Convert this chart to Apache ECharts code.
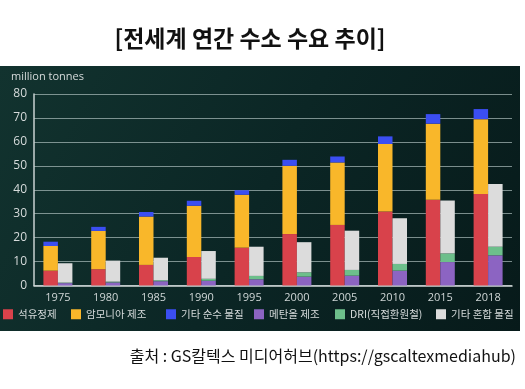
<!DOCTYPE html>
<html><head><meta charset="utf-8">
<script src="https://cdn.jsdelivr.net/npm/echarts@6/dist/echarts.min.js"></script>
<style>html,body{margin:0;padding:0;background:#fff}#c{width:525px;height:389px}</style>
</head><body><div id="c"></div>
<script>
const years = ['1975','1980','1985','1990','1995','2000','2005','2010','2015','2018'];
const yTicks = [0,10,20,30,40,50,60,70,80];
const refining = [6.2, 6.8, 8.6, 11.9, 15.8, 21.5, 25.3, 30.9, 35.8, 38.2];
const ammonia  = [10.3, 16.0, 20.2, 21.4, 22.1, 28.5, 26.1, 28.2, 31.8, 31.3];
const otherPure = [1.8, 1.7, 1.9, 2.1, 1.9, 2.5, 2.5, 3.2, 4.0, 4.2];
const methanol = [1.0, 1.3, 1.8, 2.0, 2.6, 3.7, 4.1, 6.2, 9.8, 12.6];
const dri      = [0.2, 0.3, 0.4, 0.8, 1.4, 1.8, 2.4, 2.8, 3.6, 3.6];
const otherMix = [8.1, 8.8, 9.4, 11.6, 12.2, 12.6, 16.4, 19.1, 22.1, 26.2];
const names = ['석유정제','암모니아 제조','기타 순수 물질','메탄올 제조','DRI(직접환원철)','기타 혼합 물질'];
const colors = ['#d8424b','#f9b72a','#3b4ef2','#8c64c2','#6dbf8b','#dcdcdc'];
const legendLefts = [3, 71, 166, 254, 335, 436];

const chart = echarts.init(document.getElementById('c'));
const seriesData = [refining, ammonia, otherPure, methanol, dri, otherMix];
const stacks = ['a','a','a','b','b','b'];
const font = "'Open Sans', 'Noto Sans CJK KR', sans-serif";
chart.setOption({
  animation: false,
  backgroundColor: '#ffffff',
  color: colors,
  grid: {left: 34, right: 13, top: 94, bottom: 103.5},
  legend: names.map((n, i) => ({
    data: [n], left: legendLefts[i], top: 309, itemWidth: 10, itemHeight: 10, itemGap: 0,
    icon: 'rect', textStyle: {color: '#d6dbdb', fontSize: 10.5, fontFamily: "'Noto Sans CJK KR', sans-serif"}, padding: 0
  })),
  graphic: [
    {type: 'rect', z: -10, silent: true, shape: {x: 0, y: 66, width: 520, height: 265},
      style: {fill: new echarts.graphic.LinearGradient(0, 0, 1, 1, [
        {offset: 0, color: '#12332f'}, {offset: 0.5, color: '#0b2625'}, {offset: 1, color: '#071a1a'}])}},
    {type: 'text', x: 11, y: 77, style: {text: 'million tonnes', fill: '#d6dbdb', font: "11px " + font, textVerticalAlign: 'middle'}},
    {type: 'text', x: 250, y: 38, style: {text: '[전세계 연간 수소 수요 추이]', fill: '#111', font: "bold 23px 'Noto Sans CJK KR', sans-serif", textAlign: 'center', textVerticalAlign: 'middle'}},
    {type: 'text', x: 516, y: 356, style: {text: '출처 : GS칼텍스 미디어허브(https://gscaltexmediahub)', fill: '#111', font: "16px 'Noto Sans CJK KR', sans-serif", textAlign: 'right', textVerticalAlign: 'middle'}}
  ],
  xAxis: {
    type: 'category', data: years,
    axisLine: {lineStyle: {color: '#d3dada', width: 1.5}},
    axisTick: {show: false},
    axisLabel: {color: '#cfd6d6', fontSize: 11, fontFamily: font, margin: 7}
  },
  yAxis: {
    type: 'value', min: yTicks[0], max: yTicks[yTicks.length-1], interval: 10,
    axisLine: {show: true, lineStyle: {color: '#c9d2d2', width: 1.5}},
    axisTick: {show: false},
    splitLine: {lineStyle: {color: 'rgba(185,202,200,0.65)', width: 1}},
    axisLabel: {color: '#d6dbdb', fontSize: 12, fontFamily: font, margin: 7}
  },
  series: names.map((n, i) => ({
    name: n, type: 'bar', stack: stacks[i], data: seriesData[i],
    barWidth: 14.5, barGap: '0%', itemStyle: {color: colors[i]}
  }))
});
</script></body></html>
